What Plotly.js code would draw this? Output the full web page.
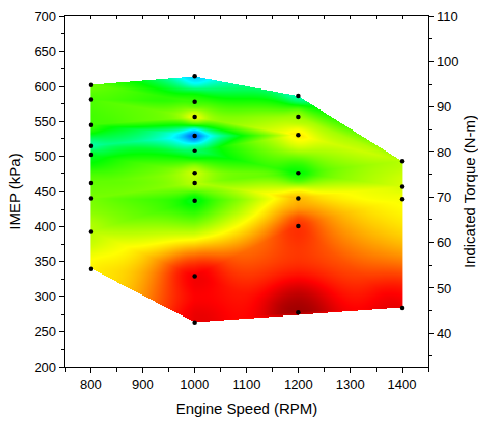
<!DOCTYPE html>
<html><head><meta charset="utf-8">
<script src="https://cdn.plot.ly/plotly-3.0.1.min.js"></script>
<style>html,body{margin:0;padding:0;background:#fff}#chart{width:478px;height:426px}</style>
</head><body><div id="chart"></div>
<script>
// Measured operating points (engine speed, IMEP) and the colour level read at each point
const speed = [800,800,800,800,800,800,800,800,800,
               1000,1000,1000,1000,1000,1000,1000,1000,1000,1000,
               1200,1200,1200,1200,1200,1200,1200,
               1400,1400,1400,1400];
const imep  = [602,581,545,515,502,462,440,393,340,
               614,578,556,529,508,476,462,437,329,263,
               586,556,530,476,440,401,278,
               493,457,439,284];
const level = [0.52,0.55,0.56,0.72,0.64,0.53,0.51,0.45,0.37,
               0.83,0.57,0.40,0.92,0.68,0.43,0.45,0.64,0.11,0.10,
               0.73,0.47,0.36,0.62,0.31,0.17,0.03,
               0.45,0.42,0.39,0.10];
const xTickVals = [800,900,1000,1100,1200,1300,1400];
const yTickVals = [200,250,300,350,400,450,500,550,600,650,700];
const y2TickVals = [40,50,60,70,80,90,100,110];

const colorscale = [
  [0.00,'#800000'],[0.12,'#ff0000'],[0.25,'#ff8000'],[0.38,'#ffff00'],
  [0.50,'#80ff00'],[0.62,'#00ff00'],[0.78,'#00ffff'],[0.90,'#0080ff'],[1.00,'#0000ff']
];

// ---- Delaunay triangulation of the measured points (screen-aspect coordinates) ----
const xMin = Math.min(...speed), xMax = Math.max(...speed);
const yMin = Math.min(...imep),  yMax = Math.max(...imep);
const sx = 0.518, sy = 0.7026;           // px per unit on the plot
const nx = v => (v - xMin) * sx;
const ny = v => (v - yMin) * sy;
function triangulate(P) {
  const n = P.length, d = 1e5;
  const pts = P.concat([[-d, -d], [d, -d], [0, d]]);
  let tris = [[n, n + 1, n + 2]];
  function inCirc(t, x, y) {
    const [ax, ay] = pts[t[0]], [bx, by] = pts[t[1]], [cx, cy] = pts[t[2]];
    const D = 2 * (ax * (by - cy) + bx * (cy - ay) + cx * (ay - by));
    if (Math.abs(D) < 1e-9) return true;
    const a2 = ax*ax+ay*ay, b2 = bx*bx+by*by, c2 = cx*cx+cy*cy;
    const ux = (a2 * (by - cy) + b2 * (cy - ay) + c2 * (ay - by)) / D;
    const uy = (a2 * (cx - bx) + b2 * (ax - cx) + c2 * (bx - ax)) / D;
    const r2 = (ax - ux) ** 2 + (ay - uy) ** 2;
    return (x - ux) ** 2 + (y - uy) ** 2 < r2 * (1 - 1e-12);
  }
  for (let i = 0; i < n; i++) {
    const [x, y] = pts[i];
    const bad = [], good = [];
    for (const t of tris) (inCirc(t, x, y) ? bad : good).push(t);
    const cnt = new Map();
    for (const t of bad) {
      for (const [a, b] of [[t[0], t[1]], [t[1], t[2]], [t[2], t[0]]]) {
        const k = a < b ? a + ',' + b : b + ',' + a;
        cnt.set(k, (cnt.get(k) || 0) + 1);
      }
    }
    const edges = [];
    for (const [k, c] of cnt) if (c === 1) edges.push(k.split(',').map(Number));
    tris = good.concat(edges.map(e => [e[0], e[1], i]));
  }
  return tris.filter(t => t[0] < n && t[1] < n && t[2] < n);
}
const P = speed.map((s, i) => [nx(s), ny(imep[i])]);
const tris = triangulate(P).map(t => {
  const [x1, y1] = P[t[0]], [x2, y2] = P[t[1]], [x3, y3] = P[t[2]];
  return {t, x1, y1, x2, y2, x3, y3,
    det: (y2 - y3) * (x1 - x3) + (x3 - x2) * (y1 - y3),
    bx0: Math.min(x1, x2, x3) - 1e-6, bx1: Math.max(x1, x2, x3) + 1e-6,
    by0: Math.min(y1, y2, y3) - 1e-6, by1: Math.max(y1, y2, y3) + 1e-6};
}).filter(o => Math.abs(o.det) > 1e-9);
function linearAt(x, y) {
  for (const o of tris) {
    if (x < o.bx0 || x > o.bx1 || y < o.by0 || y > o.by1) continue;
    const l1 = ((o.y2 - o.y3) * (x - o.x3) + (o.x3 - o.x2) * (y - o.y3)) / o.det;
    const l2 = ((o.y3 - o.y1) * (x - o.x3) + (o.x1 - o.x3) * (y - o.y3)) / o.det;
    const l3 = 1 - l1 - l2;
    if (l1 >= -1e-6 && l2 >= -1e-6 && l3 >= -1e-6)
      return l1 * level[o.t[0]] + l2 * level[o.t[1]] + l3 * level[o.t[2]];
  }
  return null;
}
function idwAt(x, y) {
  let ws = 0, vs = 0;
  for (let i = 0; i < P.length; i++) {
    const d2 = (x - P[i][0]) ** 2 + (y - P[i][1]) ** 2;
    if (d2 < 1e-9) return level[i];
    const w = 1 / Math.pow(d2, 1.3);
    ws += w; vs += w * level[i];
  }
  return vs / ws;
}

// ---- colour surface sampled on a fine grid ----
const gx = [], gy = [];
for (let v = xMin; v <= xMax + 1e-9; v += 2) gx.push(v);
for (let v = yMin; v <= yMax + 1e-9; v += 1.5) gy.push(v);
const gz = gy.map(yv => gx.map(xv => {
  const x = nx(xv), y = ny(yv);
  const lin = linearAt(x, y);
  if (lin === null) return null;
  return 0.55 * lin + 0.45 * idwAt(x, y);
}));

const traces = [
  {type: 'heatmap', x: gx, y: gy, z: gz, zmin: 0, zmax: 1, colorscale,
   showscale: false, zsmooth: false, hoverinfo: 'skip', connectgaps: false},
  {type: 'scatter', mode: 'markers', x: speed, y: imep,
   marker: {color: '#000', size: 4.5}, hoverinfo: 'x+y'},
  {type: 'scatter', x: [], y: [], xaxis: 'x2', yaxis: 'y', showlegend: false},
  {type: 'scatter', x: [], y: [], xaxis: 'x', yaxis: 'y2', showlegend: false}
];

const axisBase = {showgrid: false, zeroline: false, showline: true, linecolor: '#000',
  linewidth: 1.3, ticks: 'outside', tickcolor: '#000', tickwidth: 1, ticklen: 5,
  tickfont: {size: 13, color: '#000'}};

const layout = {
  width: 478, height: 426,
  margin: {l: 65, r: 50, t: 16, b: 59, pad: 0},
  paper_bgcolor: '#fff', plot_bgcolor: '#fff', showlegend: false,
  font: {family: 'Liberation Sans, Arial, sans-serif', size: 13, color: '#000'},
  xaxis: Object.assign({}, axisBase, {range: [750, 1450], tickvals: xTickVals, mirror: true,
    minor: {dtick: 50, tick0: 750, ticks: 'outside', ticklen: 4, tickcolor: '#000', showgrid: false},
    title: {text: 'Engine Speed (RPM)', font: {size: 15}, standoff: 12}}),
  xaxis2: {overlaying: 'x', side: 'top', anchor: 'y', range: [750, 1450], dtick: 50, tick0: 750,
    ticks: 'inside', ticklen: 3, tickcolor: '#000', showticklabels: false, showline: false,
    showgrid: false, zeroline: false},
  yaxis: Object.assign({}, axisBase, {range: [200, 700], tickvals: yTickVals,
    minor: {dtick: 25, tick0: 200, ticks: 'outside', ticklen: 3, tickcolor: '#000', showgrid: false},
    title: {text: 'IMEP (kPa)', font: {size: 15}, standoff: 10}}),
  yaxis2: Object.assign({}, axisBase, {overlaying: 'y', side: 'right', anchor: 'x',
    range: [32.57, 110], tickvals: y2TickVals,
    minor: {dtick: 5, tick0: 30, ticks: 'outside', ticklen: 3, tickcolor: '#000', showgrid: false},
    title: {text: 'Indicated Torque (N-m)', font: {size: 15}, standoff: 10}})
};

Plotly.newPlot('chart', traces, layout, {staticPlot: true, displayModeBar: false});
</script></body></html>
